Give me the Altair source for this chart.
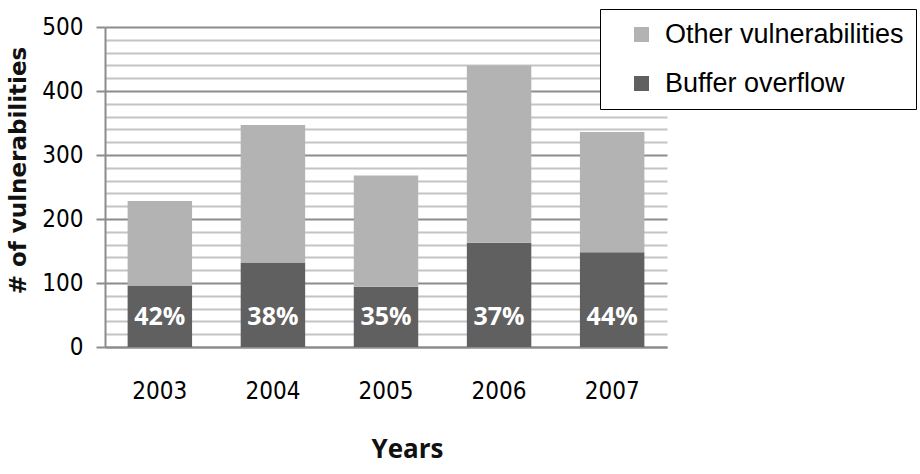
import altair as alt
import pandas as pd

# Vulnerability counts per year
years = ["2003", "2004", "2005", "2006", "2007"]
buffer_overflow = [96, 132, 94, 163, 148]
other_vulns = [132, 215, 174, 277, 188]

series_names = ["Other vulnerabilities", "Buffer overflow"]
series_colors = ["#b3b3b3", "#606060"]

y_tick_values = list(range(0, 501, 20))

rows = []
for yr, b, o in zip(years, buffer_overflow, other_vulns):
    rows.append({"year": yr, "series": "Buffer overflow", "count": b, "stack": 0})
    rows.append({"year": yr, "series": "Other vulnerabilities", "count": o, "stack": 1})
df = pd.DataFrame(rows)

share = pd.DataFrame({
    "year": years,
    "share": [f"{round(b / (b + o) * 100)}%" for b, o in zip(buffer_overflow, other_vulns)],
})

TICK_FONT = "DejaVu Sans Condensed, DejaVu Sans"

x_axis = alt.Axis(
    title="Years",
    grid=False,
    labelAngle=0,
    ticks=False,
    labelPadding=32,
    labelFont=TICK_FONT,
    labelFontSize=24,
    labelColor="#000000",
    labelOverlap=False,
    domainColor="#8c8c8c",
    domainWidth=2,
    titleFont="Open Sans",
    titleFontWeight="bold",
    titleFontSize=26,
    titleColor="#111111",
    titleX=302,
    titleY=110,
    titleBaseline="alphabetic",
)

y_axis = alt.Axis(
    title="# of vulnerabilities",
    values=y_tick_values,
    labelExpr="datum.value % 100 === 0 ? datum.label : ''",
    labelOverlap=False,
    labelFont=TICK_FONT,
    labelFontSize=24,
    labelColor="#000000",
    labelPadding=13,
    tickSize=9,
    tickColor="#8c8c8c",
    tickWidth=2,
    tickOpacity=alt.condition("datum.value % 100 === 0", alt.value(1), alt.value(0)),
    gridColor=alt.condition("datum.value % 100 === 0", alt.value("#8c8c8c"), alt.value("#c4c4c4")),
    gridWidth=2,
    domainColor="#8c8c8c",
    domainWidth=2,
    titleFont="DejaVu Sans",
    titleFontWeight="bold",
    titleFontSize=23,
    titleColor="#111111",
    titleAngle=270,
    titleX=-80,
    titleY=143,
    titleAlign="center",
    titleBaseline="alphabetic",
)

x_scale = alt.Scale(paddingInner=0.43, paddingOuter=0.2)
y_scale = alt.Scale(domain=[0, 500], nice=False)

bars = alt.Chart(df).mark_bar().encode(
    x=alt.X("year:N", sort=years, scale=x_scale, axis=x_axis),
    y=alt.Y("count:Q", stack="zero", scale=y_scale, axis=y_axis),
    color=alt.Color(
        "series:N",
        scale=alt.Scale(domain=series_names, range=series_colors),
        legend=alt.Legend(
            title=None,
            orient="none",
            legendX=495,
            legendY=-18,
            direction="vertical",
            symbolType="square",
            symbolSize=225,
            symbolStrokeWidth=0,
            symbolOffset=16,
            labelFont="Liberation Sans",
            labelFontSize=27,
            labelColor="#000000",
            labelOffset=10,
            labelLimit=400,
            rowPadding=21,
            padding=12,
            strokeColor="#000000",
            fillColor="#ffffff",
        ),
    ),
    order=alt.Order("stack:Q", sort="ascending"),
)

# Buffer-overflow share, written inside the bottom segment of each bar
labels = alt.Chart(share).mark_text(
    font="Open Sans",
    fontWeight="bold",
    fontSize=25,
    color="#ffffff",
    baseline="middle",
    dy=-30,
).encode(
    x=alt.X("year:N", sort=years, scale=x_scale, axis=x_axis),
    y=alt.Y("base:Q", scale=y_scale, axis=y_axis),
    text="share:N",
).transform_calculate(base="0")

chart = alt.layer(bars, labels).properties(
    width=562,
    height=320,
    background="#ffffff",
    padding={"left": 105, "top": 27, "right": 253, "bottom": 127},
    autosize=alt.AutoSizeParams(type="none"),
).configure_view(stroke="transparent", strokeWidth=0)

chart.save("out.html", embed_options={"renderer": "svg", "actions": False})
